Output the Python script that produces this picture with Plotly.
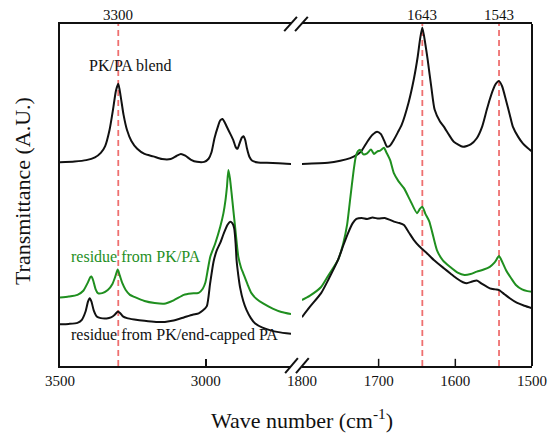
import plotly.graph_objects as go

# ---- FTIR spectra (transmittance, arbitrary units) ----
# High-wavenumber window (3500 -> ~2707 cm-1)
blend_wn_hi = [3500, 3450, 3410, 3380, 3360, 3345, 3330, 3318, 3308, 3300, 3292, 3282, 3270, 3255,
               3235, 3210, 3180, 3150, 3120, 3100, 3085, 3070, 3050, 3030, 3005, 2990, 2980, 2970,
               2958, 2950, 2942, 2935, 2925, 2915, 2905, 2897, 2891, 2884, 2876, 2870, 2864, 2858,
               2850, 2840, 2820, 2790, 2750, 2707]
blend_hi = [59.6, 59.8, 60.2, 61.0, 62.3, 64.3, 69.0, 75.0, 80.5, 82.5, 79.0, 73.5, 69.0, 65.8,
            63.5, 62.0, 61.3, 60.5, 60.5, 61.4, 62.0, 61.5, 60.3, 59.7, 59.7, 60.6, 62.5, 66.5,
            70.0, 71.8, 72.2, 71.3, 69.5, 67.8, 66.0, 64.0, 63.5, 65.0, 66.8, 67.2, 66.0, 63.5,
            61.2, 60.0, 59.5, 59.4, 59.3, 59.1]

pkpa_wn_hi = [3500, 3470, 3440, 3420, 3405, 3396, 3392, 3386, 3378, 3370, 3355, 3336, 3320, 3310,
              3302, 3295, 3286, 3275, 3260, 3245, 3210, 3175, 3143, 3110, 3075, 3050, 3024, 3010,
              3001, 2992, 2984, 2967, 2950, 2939, 2932, 2927, 2922, 2917, 2911, 2905, 2899, 2888,
              2878, 2871, 2856, 2843, 2825, 2803, 2770, 2740, 2707]
pkpa_hi = [20.0, 20.3, 20.8, 22.0, 24.3, 26.0, 26.2, 25.0, 22.5, 21.3, 21.3, 22.2, 24.0, 26.2,
           28.2, 26.5, 24.2, 22.3, 20.8, 20.2, 19.0, 18.4, 18.2, 19.2, 20.8, 21.2, 21.4, 22.6,
           24.4, 28.5, 32.0, 35.9, 40.7, 44.7, 48.5, 52.4, 57.3, 55.0, 50.5, 45.5, 40.7, 32.0,
           28.6, 27.1, 23.8, 21.3, 19.6, 18.3, 16.8, 15.8, 15.2]

capped_wn_hi = [3500, 3470, 3440, 3425, 3412, 3404, 3398, 3392, 3384, 3374, 3360, 3340, 3325, 3312,
                3302, 3294, 3284, 3270, 3245, 3210, 3170, 3140, 3110, 3075, 3045, 3024, 3010, 2996,
                2985, 2973, 2962, 2950, 2940, 2933, 2925, 2916, 2908, 2902, 2897, 2894, 2888, 2882,
                2871, 2860, 2845, 2831, 2805, 2780, 2750, 2707]
capped_hi = [12.2, 12.3, 12.6, 13.5, 16.0, 18.8, 19.8, 18.8, 16.2, 14.5, 14.0, 13.9, 14.2, 15.0,
             15.9, 15.5, 14.5, 14.0, 13.6, 13.2, 12.9, 12.9, 13.3, 14.2, 15.0, 15.4, 16.2, 17.5,
             24.0, 30.5, 33.8, 36.0, 38.3, 39.8, 41.3, 42.2, 41.7, 40.2, 35.5, 31.0, 26.5, 23.0,
             19.0, 16.4, 14.0, 12.5, 11.2, 10.5, 9.9, 9.4]

# Low-wavenumber window (1800 -> 1500 cm-1)
blend_wn_lo = [1800, 1766, 1750, 1737, 1728, 1722, 1715, 1708, 1702, 1697, 1693, 1689, 1685, 1680,
               1675, 1670, 1661, 1654, 1649, 1646, 1643, 1639, 1636, 1631, 1627, 1620, 1615, 1608,
               1602, 1590, 1580, 1572, 1565, 1559, 1555, 1551, 1547, 1543, 1539, 1534, 1529, 1525,
               1518, 1512, 1506, 1500]
blend_lo = [59.1, 59.4, 60.0, 60.8, 61.8, 63.0, 65.5, 67.6, 68.5, 67.8, 66.0, 64.1, 64.5, 66.2,
            68.3, 70.5, 77.0, 84.0, 90.5, 95.5, 99.0, 94.0, 89.5, 81.0, 75.0, 71.5, 70.0, 67.5,
            65.6, 64.1, 64.8, 66.6, 70.0, 74.9, 78.0, 80.7, 82.6, 83.3, 81.8, 77.8, 73.5, 70.0,
            67.0, 65.1, 63.8, 62.7]

pkpa_wn_lo = [1800, 1790, 1775, 1766, 1753, 1746, 1741, 1737, 1733, 1730, 1727, 1724, 1720, 1715,
              1710, 1706, 1702, 1698, 1693, 1690, 1685, 1680, 1674, 1667, 1659, 1650, 1646, 1643,
              1639, 1634, 1630, 1624, 1616, 1607, 1597, 1588, 1580, 1572, 1563, 1555, 1549, 1545,
              1543, 1540, 1534, 1527, 1521, 1513, 1506, 1500]
pkpa_lo = [19.3, 20.5, 23.1, 26.3, 31.0, 36.0, 41.5, 49.0, 56.5, 61.0, 62.8, 63.2, 61.9, 62.2,
           63.3, 62.0, 62.7, 63.0, 63.8, 62.5, 60.2, 56.3, 54.0, 52.0, 48.5, 44.7, 46.0, 46.6,
           44.5, 42.3, 39.0, 33.9, 30.8, 29.0, 27.3, 26.6, 26.9, 27.6, 28.2, 29.0, 30.2, 31.6,
           32.2, 31.0, 28.1, 25.6, 23.7, 22.4, 21.9, 21.7]

capped_wn_lo = [1800, 1790, 1775, 1765, 1753, 1746, 1740, 1734, 1729, 1722, 1715, 1708, 1700, 1692,
                1686, 1680, 1673, 1667, 1661, 1654, 1647, 1643, 1638, 1628, 1615, 1606, 1598, 1590,
                1585, 1578, 1572, 1565, 1555, 1548, 1543, 1536, 1529, 1520, 1510, 1500]
capped_lo = [14.3, 17.2, 21.3, 25.5, 31.0, 35.3, 38.8, 41.7, 43.0, 43.3, 43.0, 43.4, 43.1, 43.3,
             42.8, 42.2, 41.8, 41.2, 39.2, 36.8, 35.0, 34.2, 33.2, 31.0, 28.6, 27.0, 25.6, 24.5,
             24.2, 24.7, 25.0, 24.0, 22.7, 22.4, 22.2, 21.0, 19.8, 18.5, 17.6, 16.9]

# Axis ticks and marked band positions
ticks_hi = [3500, 3000]
ticks_lo = [1800, 1700, 1600, 1500]
inner_ticks_lo = [1700, 1600]
bands_hi = [3300]
bands_lo = [1643, 1543]

FONT = "Liberation Serif, Times New Roman, serif"
BLACK = "#111111"
GREEN = "#1f8f1f"
RED = "#ee7070"

fig = go.Figure()

series = [
    (blend_wn_hi, blend_hi, blend_wn_lo, blend_lo, BLACK),
    (pkpa_wn_hi, pkpa_hi, pkpa_wn_lo, pkpa_lo, GREEN),
    (capped_wn_hi, capped_hi, capped_wn_lo, capped_lo, BLACK),
]
for wn_hi, y_hi, wn_lo, y_lo, col in series:
    fig.add_trace(go.Scatter(x=wn_hi, y=y_hi, mode="lines", xaxis="x", yaxis="y",
                             line=dict(color=col, width=2, shape="spline", smoothing=0.6),
                             hoverinfo="skip"))
    fig.add_trace(go.Scatter(x=wn_lo, y=y_lo, mode="lines", xaxis="x2", yaxis="y",
                             line=dict(color=col, width=2, shape="spline", smoothing=0.6),
                             hoverinfo="skip"))

shapes = []
# dashed band markers
for b in bands_hi:
    shapes.append(dict(type="line", xref="x", yref="paper", x0=b, x1=b, y0=0, y1=1,
                       line=dict(color=RED, width=1.8, dash="6px,4px"), layer="below"))
for b in bands_lo:
    shapes.append(dict(type="line", xref="x2", yref="paper", x0=b, x1=b, y0=0, y1=1,
                       line=dict(color=RED, width=1.8, dash="6px,4px"), layer="below"))
# inner tick marks of the low-wavenumber window
for t in inner_ticks_lo:
    shapes.append(dict(type="line", xref="x2", yref="paper", x0=t, x1=t, y0=0, y1=0.021,
                       line=dict(color=BLACK, width=1.5)))
# right frame edge
shapes.append(dict(type="line", xref="paper", yref="paper", x0=1, x1=1, y0=0, y1=1,
                   line=dict(color=BLACK, width=2)))
# axis-break marks "//" at bottom and top
for (xa, xb) in [(0.477, 0.504), (0.500, 0.527)]:
    shapes.append(dict(type="line", xref="paper", yref="paper", x0=xa, x1=xb, y0=-0.021, y1=0.023,
                       line=dict(color=BLACK, width=2)))
    shapes.append(dict(type="line", xref="paper", yref="paper", x0=xa - 0.002, x1=xb - 0.002,
                       y0=0.979, y1=1.021, line=dict(color=BLACK, width=2)))

annotations = []
for b in bands_hi:
    annotations.append(dict(x=b, y=1, xref="x", yref="paper", text=str(b), showarrow=False,
                            yanchor="bottom", yshift=-1, font=dict(family=FONT, size=15, color=BLACK)))
for b in bands_lo:
    annotations.append(dict(x=b, y=1, xref="x2", yref="paper", text=str(b), showarrow=False,
                            yanchor="bottom", yshift=-1, font=dict(family=FONT, size=15, color=BLACK)))
annotations += [
    dict(x=0.057, y=0.88, xref="paper", yref="paper", text="PK/PA blend", showarrow=False,
         xanchor="left", yanchor="middle", font=dict(family=FONT, size=16, color=BLACK)),
    dict(x=0.019, y=0.319, xref="paper", yref="paper", text="residue from PK/PA", showarrow=False,
         xanchor="left", yanchor="middle", font=dict(family=FONT, size=16, color=GREEN)),
    dict(x=0.019, y=0.091, xref="paper", yref="paper", text="residue from PK/end-capped PA",
         showarrow=False, xanchor="left", yanchor="middle",
         font=dict(family=FONT, size=16, color=BLACK)),
    dict(x=0.512, y=-0.155, xref="paper", yref="paper", text="Wave number (cm<sup>-1</sup>)",
         showarrow=False, xanchor="center", yanchor="middle",
         font=dict(family=FONT, size=22, color=BLACK)),
    dict(x=-0.078, y=0.512, xref="paper", yref="paper", text="Transmittance (A.U.)",
         showarrow=False, textangle=-90, xanchor="center", yanchor="middle",
         font=dict(family=FONT, size=22, color=BLACK)),
]

axis_common = dict(showline=True, linecolor=BLACK, linewidth=2, mirror=True, showgrid=False,
                   zeroline=False, tickfont=dict(family=FONT, size=15, color=BLACK))

fig.update_layout(
    width=559, height=435,
    margin=dict(l=60, r=23, t=24, b=69),
    paper_bgcolor="white", plot_bgcolor="white",
    showlegend=False,
    xaxis=dict(domain=[0, 0.4895], range=[3500, 2707], tickvals=ticks_hi,
               ticks="inside", ticklen=7, tickwidth=1.5, tickcolor=BLACK, anchor="y", **axis_common),
    xaxis2=dict(domain=[0.5126, 1], range=[1800, 1500], tickvals=ticks_lo,
                ticks="", anchor="y", **axis_common),
    yaxis=dict(range=[0, 100], showline=True, linecolor=BLACK, linewidth=2, ticks="",
               showticklabels=False, showgrid=False, zeroline=False, anchor="x"),
    shapes=shapes,
    annotations=annotations,
)

fig.write_html("out.html")
